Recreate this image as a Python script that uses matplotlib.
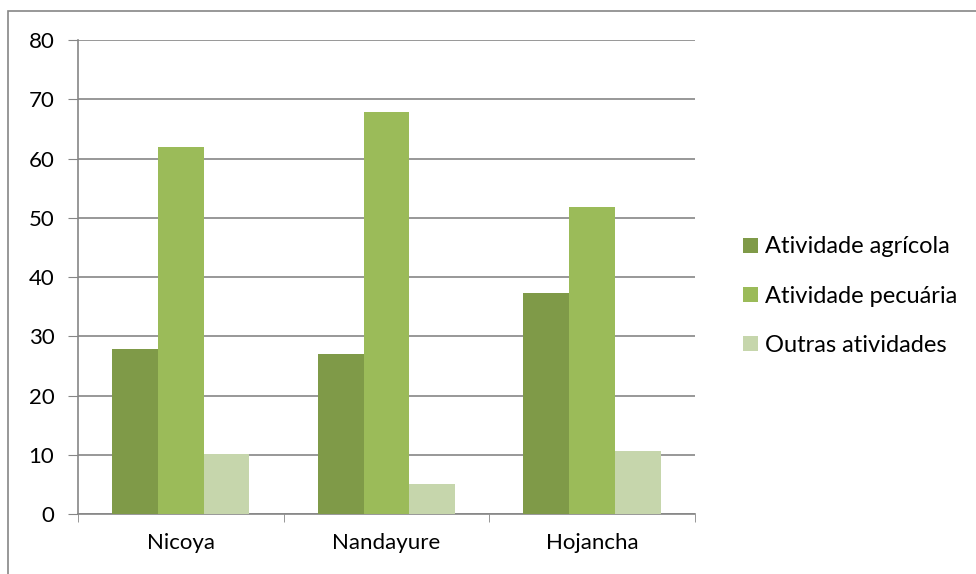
import matplotlib.pyplot as plt
import numpy as np
from matplotlib.patches import Rectangle

plt.rcParams['font.family'] = ['Lato', 'DejaVu Sans']

cidades = ['Nicoya', 'Nandayure', 'Hojancha']
series = ['Atividade agrícola', 'Atividade pecuária', 'Outras atividades']
agricola = [27.8, 27.0, 37.3]
pecuaria = [61.9, 67.8, 51.8]
outras = [10.1, 5.1, 10.6]
cores = ['#7F9A48', '#9BBB59', '#C6D6AC']

fig = plt.figure(figsize=(9.76, 5.74), dpi=100)
ax = fig.add_axes([0.0799, 0.1045, 0.632, 0.8255])

x = np.arange(len(cidades))
w = 1 / 4.5  # gap width 150%
for i, (vals, nome) in enumerate(zip([agricola, pecuaria, outras], series)):
    ax.bar(x + (i - 1) * w, vals, w, color=cores[i], label=nome, zorder=3)

ax.set_ylim(0, 80)
ax.set_xlim(-0.5, 2.5)
ax.set_yticks(range(0, 81, 10))
ax.set_xticks(x)
ax.set_xticklabels(cidades)
ax.set_xticks([-0.5, 0.5, 1.5, 2.5], minor=True)
ax.tick_params(axis='x', which='major', length=0, pad=14, labelsize=16)
ax.tick_params(axis='x', which='minor', length=6, color='#868686', direction='out')
ax.tick_params(axis='y', length=7, color='#868686', pad=10, labelsize=16)
ax.yaxis.grid(True, color='#868686', linewidth=1.2, zorder=0)
for s in ['top', 'right']:
    ax.spines[s].set_visible(False)
for s in ['left', 'bottom']:
    ax.spines[s].set_color('#868686')
    ax.spines[s].set_linewidth(1.2)

fig.legend(loc='center left', bbox_to_anchor=(0.74, 0.484), frameon=False,
           fontsize=17, handlelength=0.6, handleheight=0.6, handletextpad=0.3,
           labelspacing=1.2)

# moldura do grafico (cortada a direita e em baixo)
fig.patches.append(Rectangle((8 / 976, -0.05), 1.1, 0.05 + 563 / 574,
                             transform=fig.transFigure, fill=False,
                             edgecolor='#868686', linewidth=1.2))

fig.savefig('out.png', dpi=100)
